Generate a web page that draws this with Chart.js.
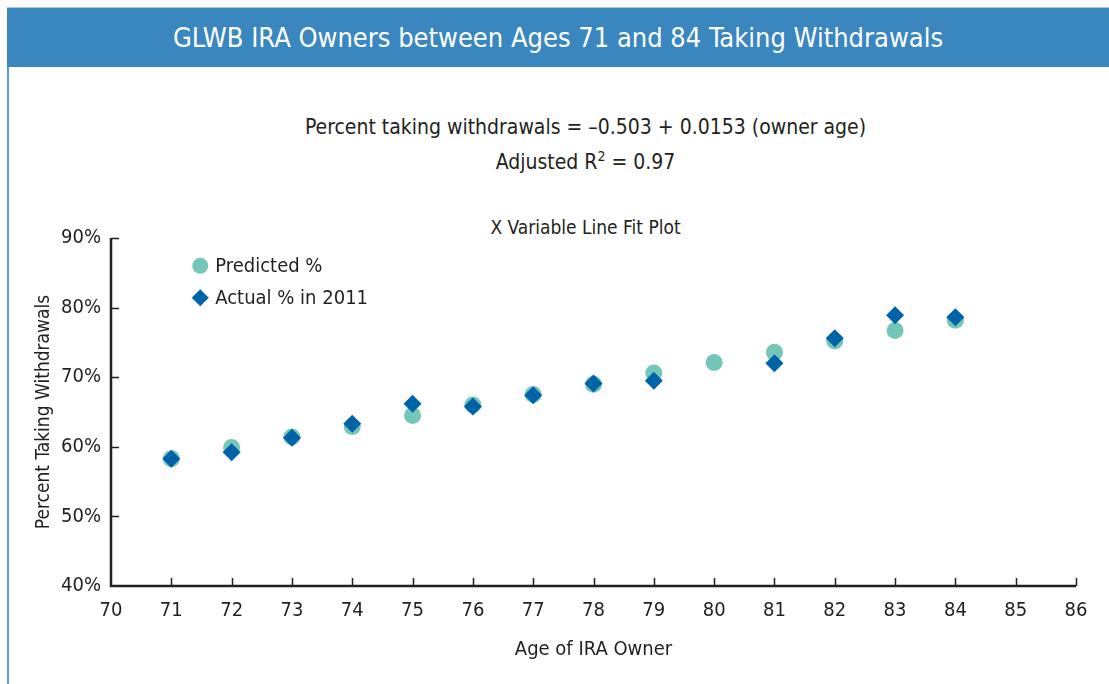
<!DOCTYPE html>
<html>
<head>
<meta charset="utf-8">
<script src="https://cdn.jsdelivr.net/npm/chart.js@4.4.1/dist/chart.umd.min.js"></script>
<style>
  html, body { margin:0; padding:0; background:#fff; }
  body { width:1109px; height:684px; position:relative; overflow:hidden; font-family:"Liberation Sans Narrow","DejaVu Sans Condensed",sans-serif; color:#231f20; }
  #bar { position:absolute; left:7px; top:7px; width:1102px; height:60px; background:#3a87c0; border-top:1px solid #a9c9e2; box-sizing:border-box; }
  #bar div { position:absolute; left:0; right:0; top:14px; text-align:center; color:#fff; font-size:27px; line-height:32px; }
  #lborder { position:absolute; left:7px; top:67px; width:2px; height:617px; background:#5b9bd0; }
  .t { position:absolute; left:0; width:1171px; text-align:center; }
  #wrap { position:absolute; left:0; top:0; width:1109px; height:684px; }
</style>
</head>
<body>
<div id="bar"><div>GLWB IRA Owners between Ages 71 and 84 Taking Withdrawals</div></div>
<div id="lborder"></div>
<div class="t" style="top:115px;font-size:21px;">Percent taking withdrawals = –0.503 + 0.0153 (owner age)</div>
<div class="t" style="top:150px;font-size:21px;">Adjusted R<sup style="font-size:14px;vertical-align:8px;line-height:0;">2</sup> = 0.97</div>
<div class="t" style="top:216px;font-size:19px;">X Variable Line Fit Plot</div>
<div id="wrap"><canvas id="c" width="1109" height="684"></canvas></div>
<script>
const ages = [71, 72, 73, 74, 75, 76, 77, 78, 79, 80, 81, 82, 83, 84];
const predictedPct = [58.3, 59.9, 61.4, 62.9, 64.5, 66.0, 67.5, 69.0, 70.6, 72.1, 73.6, 75.2, 76.7, 78.2];
const actualPct = [58.3, 59.2, 61.3, 63.3, 66.2, 65.8, 67.4, 69.1, 69.5, null, 72.0, 75.6, 78.9, 78.6];
const xTicks = [70, 71, 72, 73, 74, 75, 76, 77, 78, 79, 80, 81, 82, 83, 84, 85, 86];
const yTicks = [40, 50, 60, 70, 80, 90];
const legendLabels = ['Predicted %', 'Actual % in 2011'];

const teal = '#74c7b8';
const blue = '#0063a8';
const ink = '#231f20';
const fontFam = '"Liberation Sans Narrow","DejaVu Sans Condensed",sans-serif';

function pts(vals) {
  return ages.map((a, i) => (vals[i] == null ? null : { x: a, y: vals[i] })).filter(p => p);
}

const innerTicks = {
  id: 'innerTicks',
  afterDraw(chart) {
    const ctx = chart.ctx;
    const xs = chart.scales.x, ys = chart.scales.y;
    const area = chart.chartArea;
    ctx.save();
    ctx.strokeStyle = ink;
    ctx.lineWidth = 1.5;
    ctx.beginPath();
    xTicks.forEach(v => {
      if (v === xTicks[0]) return;
      const px = Math.round(xs.getPixelForValue(v)) + 0.5;
      ctx.moveTo(px, area.bottom);
      ctx.lineTo(px, area.bottom - 8);
    });
    yTicks.forEach(v => {
      if (v === yTicks[0]) return;
      const py = Math.round(ys.getPixelForValue(v)) + 0.5;
      ctx.moveTo(area.left, py);
      ctx.lineTo(area.left + 8, py);
    });
    ctx.stroke();
    ctx.lineWidth = 2.5;
    ctx.beginPath();
    ctx.moveTo(area.left, ys.getPixelForValue(yTicks[yTicks.length - 1]));
    ctx.lineTo(area.left, area.bottom);
    ctx.lineTo(xs.getPixelForValue(xTicks[xTicks.length - 1]), area.bottom);
    ctx.stroke();

    // legend
    const lx = xs.getPixelForValue(71.48);
    const ly1 = ys.getPixelForValue(86.0);
    const ly2 = ys.getPixelForValue(81.4);
    ctx.fillStyle = teal;
    ctx.beginPath(); ctx.arc(lx, ly1, 8, 0, Math.PI * 2); ctx.fill();
    ctx.fillStyle = blue;
    ctx.beginPath();
    ctx.moveTo(lx, ly2 - 8.5); ctx.lineTo(lx + 8.5, ly2); ctx.lineTo(lx, ly2 + 8.5); ctx.lineTo(lx - 8.5, ly2); ctx.closePath();
    ctx.fill();
    ctx.fillStyle = ink;
    ctx.font = '20px ' + fontFam;
    ctx.textBaseline = 'middle';
    ctx.textAlign = 'left';
    ctx.fillText(legendLabels[0], lx + 15, ly1 + 1);
    ctx.fillText(legendLabels[1], lx + 15, ly2 + 1);
    ctx.restore();
  }
};

new Chart(document.getElementById('c'), {
  type: 'scatter',
  data: {
    datasets: [
      { label: legendLabels[0], data: pts(predictedPct), backgroundColor: teal, borderColor: teal, pointStyle: 'circle', pointRadius: 8.5, pointBorderWidth: 0, order: 2 },
      { label: legendLabels[1], data: pts(actualPct), backgroundColor: blue, borderColor: blue, pointStyle: 'rectRot', pointRadius: 9, pointBorderWidth: 0, order: 1 }
    ]
  },
  options: {
    responsive: false,
    animation: false,
    events: [],
    layout: { padding: { left: 0, top: 238, right: 33, bottom: 18 } },
    plugins: { legend: { display: false }, tooltip: { enabled: false } },
    scales: {
      x: {
        type: 'linear', min: 70, max: 86,
        afterBuildTicks(s) { s.ticks = xTicks.map(v => ({ value: v })); },
        afterFit(s) { s.height = 80; },
        grid: { display: false, drawTicks: false },
        border: { display: false },
        ticks: { color: ink, font: { family: fontFam, size: 20 }, padding: 13, maxRotation: 0, autoSkip: false },
        title: { display: true, text: 'Age of IRA Owner', color: ink, font: { family: fontFam, size: 20 }, padding: { top: 14 } }
      },
      y: {
        type: 'linear', min: 40, max: 90,
        afterBuildTicks(s) { s.ticks = yTicks.map(v => ({ value: v })); },
        afterFit(s) { s.width = 111; },
        grid: { display: false, drawTicks: false },
        border: { display: false },
        ticks: { color: ink, font: { family: fontFam, size: 20 }, padding: 10, callback: v => v + '%' },
        title: { display: true, text: 'Percent Taking Withdrawals', color: ink, font: { family: fontFam, size: 19 }, padding: { top: 33, bottom: 4 } }
      }
    }
  },
  plugins: [innerTicks]
});
</script>
</body>
</html>
